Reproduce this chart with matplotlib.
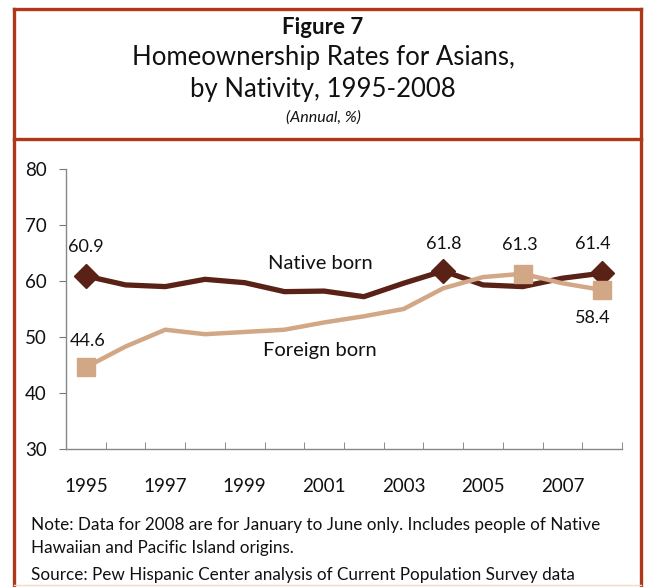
import matplotlib
matplotlib.use("Agg")
import matplotlib.pyplot as plt
from matplotlib.lines import Line2D

years = list(range(1995, 2009))
native_born = [60.9, 59.3, 59.0, 60.3, 59.7, 58.1, 58.2, 57.2, 59.6, 61.8, 59.3, 59.0, 60.5, 61.4]
foreign_born = [44.6, 48.3, 51.3, 50.5, 50.9, 51.3, 52.6, 53.7, 55.0, 58.7, 60.7, 61.3, 59.6, 58.4]
tick_years = [1995, 1997, 1999, 2001, 2003, 2005, 2007]
y_ticks = [30, 40, 50, 60, 70, 80]

native_labels = {1995: "60.9", 2004: "61.8", 2008: "61.4"}
foreign_labels = {1995: "44.6", 2006: "61.3", 2008: "58.4"}

plt.rcParams['font.family'] = ['Lato', 'DejaVu Sans']

W, H = 646, 587
fig = plt.figure(figsize=(W / 100, H / 100), dpi=100)

def fx(px):
    return px / W

def fy(py):
    return 1 - py / H

border = "#b0381a"
native_c = "#5a2117"
foreign_c = "#d2a785"

# frame
for (x0, y0, x1, y1) in [(14, 9, 641, 9), (14, 9, 14, 587), (641, 9, 641, 587), (14, 139, 641, 139)]:
    fig.add_artist(Line2D([fx(x0), fx(x1)], [fy(y0), fy(y1)], color=border, lw=2.4,
                          solid_capstyle='projecting'))
fig.add_artist(Line2D([fx(14), fx(641)], [fy(585), fy(585)], color="#f2d8cc", lw=1))

# titles
fig.text(0.5, fy(27), "Figure 7", ha='center', va='center', fontsize=16, fontweight='bold', color='#111')
fig.text(0.5, fy(58), "Homeownership Rates for Asians,", ha='center', va='center', fontsize=18.5, color='#111')
fig.text(0.5, fy(90), "by Nativity, 1995-2008", ha='center', va='center', fontsize=18.5, color='#111')
fig.text(0.5, fy(118), "(Annual, %)", ha='center', va='center', fontsize=11.5, style='italic', color='#111')

ax = fig.add_axes([fx(66), fy(449), fx(622) - fx(66), fy(169) - fy(449)])
ax.plot(years, native_born, color=native_c, lw=3.8, marker=None, solid_joinstyle='round', zorder=3)
ax.plot(years, foreign_born, color=foreign_c, lw=3.2, solid_joinstyle='round', zorder=4)

mk_n = [years.index(y) for y in native_labels]
mk_f = [years.index(y) for y in foreign_labels]
ax.plot([years[i] for i in mk_n], [native_born[i] for i in mk_n], ls='none', marker='D',
        ms=12, color=native_c, zorder=5)
ax.plot([years[i] for i in mk_f], [foreign_born[i] for i in mk_f], ls='none', marker='s',
        ms=13, color=foreign_c, zorder=6)

ax.set_xlim(1994.5, 2008.5)
ax.set_ylim(30, 80)
ax.set_yticks(y_ticks)
ax.set_xticks(tick_years)
ax.set_xticks([y - 0.5 for y in years] + [2008.5], minor=True)
ax.tick_params(axis='x', which='major', length=0, pad=21, labelsize=13.5, colors='#111')
ax.tick_params(axis='x', which='minor', direction='in', length=5, color='#777')
ax.tick_params(axis='y', direction='out', length=5, color='#777', labelsize=13.5, labelcolor='#111', pad=9)
for s in ['top', 'right']:
    ax.spines[s].set_visible(False)
for s in ['left', 'bottom']:
    ax.spines[s].set_color('#888')
    ax.spines[s].set_linewidth(1)

lab_kw = dict(ha='center', va='center', fontsize=13, color='#111', zorder=7)
ax.annotate(native_labels[1995], (1995, native_born[0]), xytext=(0, 29), textcoords='offset pixels', **lab_kw)
ax.annotate(native_labels[2004], (2004, native_born[9]), xytext=(0, 27), textcoords='offset pixels', **lab_kw)
ax.annotate(native_labels[2008], (2008, native_born[13]), xytext=(-9, 29), textcoords='offset pixels', **lab_kw)
ax.annotate(foreign_labels[1995], (1995, foreign_born[0]), xytext=(2, 26), textcoords='offset pixels', **lab_kw)
ax.annotate(foreign_labels[2006], (2006, foreign_born[11]), xytext=(-3, 29), textcoords='offset pixels', **lab_kw)
ax.annotate(foreign_labels[2008], (2008, foreign_born[13]), xytext=(-9, -28), textcoords='offset pixels', **lab_kw)

ax.text(2000.9, 63.2, "Native born", ha='center', va='center', fontsize=14.5, color='#111')
ax.text(2000.9, 47.6, "Foreign born", ha='center', va='center', fontsize=14.5, color='#111')

# notes
note_kw = dict(ha='left', va='center', fontsize=12.3, color='#111')
fig.text(fx(31), fy(525), "Note: Data for 2008 are for January to June only. Includes people of Native", **note_kw)
fig.text(fx(31), fy(548), "Hawaiian and Pacific Island origins.", **note_kw)
fig.text(fx(31), fy(575), "Source: Pew Hispanic Center analysis of Current Population Survey data", **note_kw)

fig.savefig("out.png", dpi=100)
